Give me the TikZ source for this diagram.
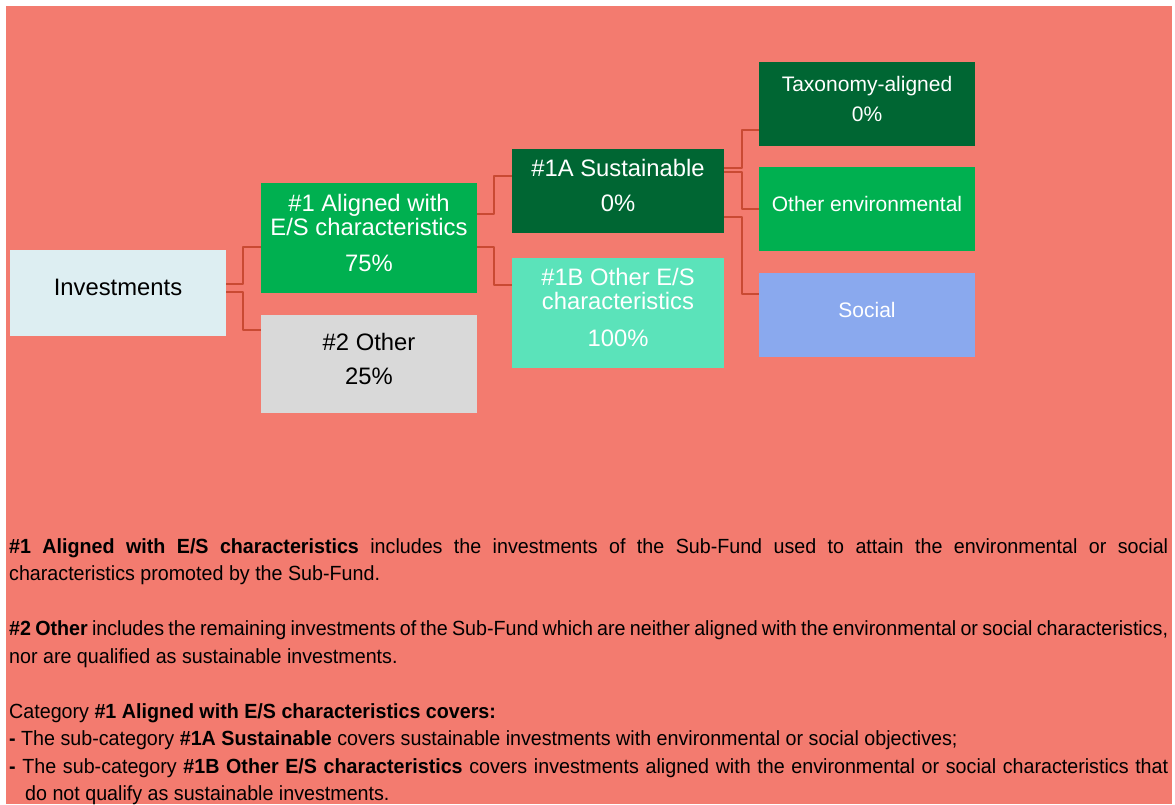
\documentclass[tikz,border=0pt]{standalone}
\usepackage{fontspec}
\setmainfont{Liberation Sans}
\newfontfamily\narrow[FakeStretch=0.96]{Liberation Sans}
\definecolor{salmon}{HTML}{F37B6F}
\definecolor{linkred}{HTML}{C94A33}
\definecolor{paleblue}{HTML}{DDEEF2}
\definecolor{midgreen}{HTML}{00B050}
\definecolor{darkgreen}{HTML}{006633}
\definecolor{lightgray}{HTML}{D9D9D9}
\definecolor{mint}{HTML}{5BE3BA}
\definecolor{skyblue}{HTML}{8AA9EE}
\begin{document}
\begin{tikzpicture}[x=1pt,y=1pt,line join=round,
 box/.style={rectangle,inner sep=0pt,align=center,text=white,minimum width=216pt,minimum height=84pt,
  font=\fontsize{23.8}{24}\selectfont,execute at end node={\rule[-11pt]{0pt}{11pt}}},
 small/.style={font=\fontsize{21}{21}\selectfont},
 link/.style={draw=linkred,line width=2pt}]
 \useasboundingbox (0,0) rectangle (1175,804);
 \fill[white] (0,0) rectangle (1175,804);
 \fill[salmon] (6,0) rectangle (1172,798);
 % boxes
 \node[box,fill=paleblue,text=black,minimum height=86pt] (inv) at (118,511) {Investments};
 \node[box,fill=midgreen,minimum height=110pt] (al) at (369,566) {\#1 Aligned with\\E/S characteristics\\[12pt]75\%};
 \node[box,fill=lightgray,text=black,minimum height=98pt] (oth) at (369,440) {\#2 Other\\[10pt]25\%};
 \node[box,fill=darkgreen,minimum width=212pt] (sus) at (618,613) {\#1A Sustainable\\[11pt]0\%};
 \node[box,fill=mint,minimum width=212pt,minimum height=110pt] (es) at (618,491) {\#1B Other E/S\\characteristics\\[13pt]100\%};
 \node[box,small,fill=darkgreen] (tax) at (867,700) {Taxonomy-aligned\\[9pt]0\%};
 \node[box,small,fill=midgreen] (env) at (867,595) {Other environmental};
 \node[box,small,fill=skyblue] (soc) at (867,488.5) {Social};
 % connectors
 \draw[link] ([yshift=9pt]inv.east) -- ++(17,0) |- ([yshift=-9pt]al.west);
 \draw[link] ([yshift=1pt]inv.east) -- ++(17,0) |- ([yshift=34pt]oth.west);
 \draw[link] ([yshift=23.7pt]al.east) -- ++(17,0) |- ([yshift=15pt]sus.west);
 \draw[link] ([yshift=-8.7pt]al.east) -- ++(17,0) |- ([yshift=28pt]es.west);
 \draw[link] ([yshift=23.3pt]sus.east) -- ++(17.7,0) |- ([yshift=-26pt]tax.west);
 \draw[link] ([yshift=19.3pt]sus.east) -- ++(17.7,0) |- (env.west);
 \draw[link] ([yshift=-25.7pt]sus.east) -- ++(17.7,0) |- ([yshift=21.5pt]soc.west);
 % explanation
 \node[anchor=north west,inner sep=0pt,text width=1159pt,align=justify,
  font=\narrow\fontsize{20.5}{27.5}\selectfont] (notes) at (9,266) {\tolerance=9999
 \textbf{\#1 Aligned with E/S characteristics} includes the investments of the Sub-Fund used to attain the environmental or social\linebreak characteristics promoted by the Sub-Fund.\par\vspace{27.5pt}
 \textbf{\#2 Other} includes the remaining investments of the Sub-Fund which are neither aligned with the environmental or social characteristics,\linebreak nor are qualified as sustainable investments.\par\vspace{27.5pt}
 Category \textbf{\#1 Aligned with E/S characteristics covers:}\par
 \textbf{-} The sub-category \textbf{\#1A Sustainable} covers sustainable investments with environmental or social objectives;\par
 \textbf{-} The sub-category \textbf{\#1B Other E/S characteristics} covers investments aligned with the environmental or social characteristics that\linebreak\hspace*{16pt}do not qualify as sustainable investments.};
\end{tikzpicture}
\end{document}
